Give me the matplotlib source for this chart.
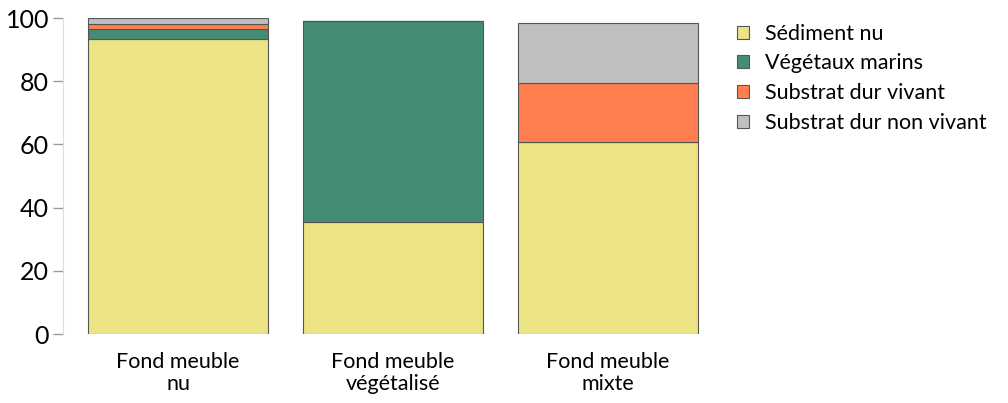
import numpy as np
import matplotlib.pyplot as plt

plt.rcParams['font.family'] = ['Lato', 'DejaVu Sans']

# Données
categories = ['Fond meuble\nnu', 'Fond meuble\nvégétalisé', 'Fond meuble\nmixte']
series = ['Sédiment nu', 'Végétaux marins', 'Substrat dur vivant', 'Substrat dur non vivant']
sediment = [93.3, 35.4, 60.9]
vegetaux = [3.1, 63.7, 0.0]
dur_vivant = [1.7, 0.0, 18.4]
dur_non_vivant = [1.9, 0.0, 19.2]
colors = ['#ECE385', '#448C73', '#FF7F50', '#BFBFBF']

fig = plt.figure(figsize=(10.08, 4.03), dpi=100)
ax = fig.add_axes([63 / 1008, 69 / 403, 660 / 1008, 316 / 403])

x = np.arange(len(categories))
bottom = np.zeros(len(categories))
for vals, name, col in zip([sediment, vegetaux, dur_vivant, dur_non_vivant], series, colors):
    ax.bar(x, vals, width=0.837, bottom=bottom, color=col, edgecolor='#555555',
           linewidth=0.8, label=name)
    bottom += np.array(vals)

ax.set_xlim(-0.535, 2.535)
ax.set_ylim(0, 100)
ax.set_yticks([0, 20, 40, 60, 80, 100])
ax.tick_params(axis='y', labelsize=18, length=7, color='#999999', width=1, pad=3)
ax.set_xticks(x)
ax.set_xticklabels(categories, fontsize=15.5, linespacing=1.15)
ax.tick_params(axis='x', length=0, pad=13)

for s in ['top', 'right', 'bottom']:
    ax.spines[s].set_visible(False)
ax.spines['left'].set_color('#dddddd')

ax.legend(loc='upper left', bbox_to_anchor=(674 / 660, 0.982), frameon=False, fontsize=15.5,
          handlelength=0.55, handleheight=0.55, handletextpad=0.75, labelspacing=0.45,
          borderaxespad=0, borderpad=0)

fig.savefig('out.png', dpi=100)
